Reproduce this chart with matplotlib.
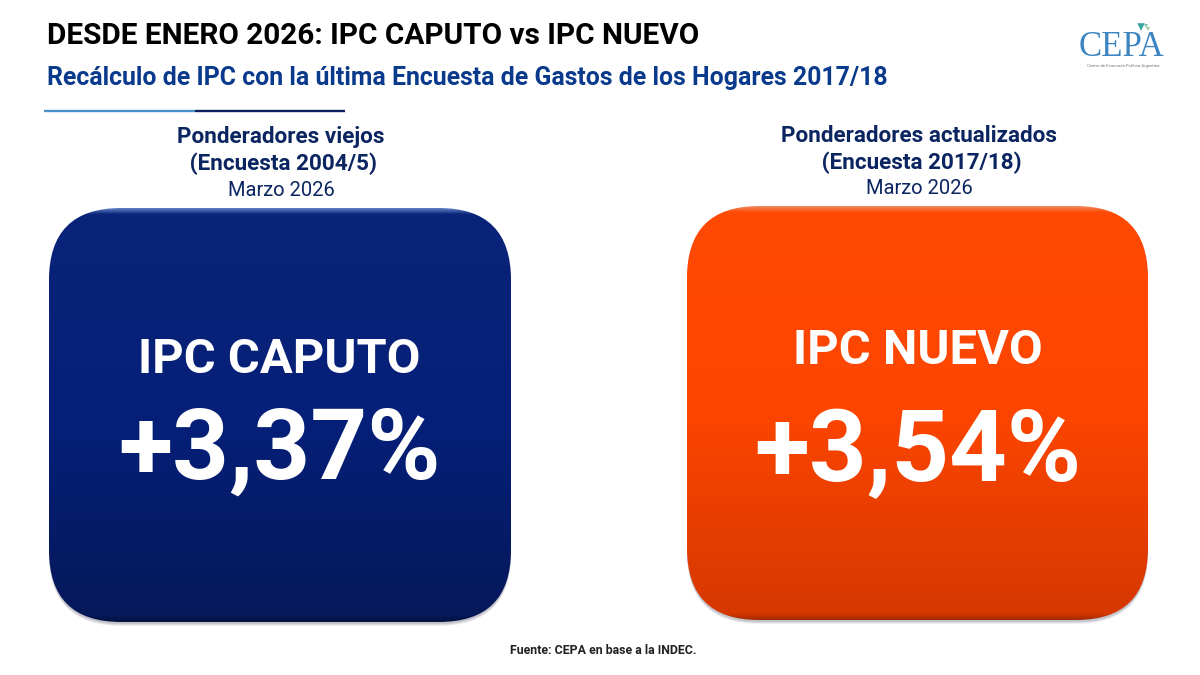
#! /usr/bin/env python3
# -*- coding: utf-8 -*-
import numpy as np
import matplotlib
matplotlib.use('Agg')
import matplotlib.pyplot as plt
from matplotlib.patches import FancyBboxPatch
from matplotlib.transforms import Affine2D
from matplotlib.colors import LinearSegmentedColormap

plt.rcParams['font.family'] = ['Roboto', 'DejaVu Sans']

title = 'DESDE ENERO 2026: IPC CAPUTO vs IPC NUEVO'
subtitle = 'Recálculo de IPC con la última Encuesta de Gastos de los Hogares 2017/18'
source = 'Fuente: CEPA en base a la INDEC.'

headers_a = ['Ponderadores viejos', 'Ponderadores actualizados']
headers_b = [' (Encuesta 2004/5)', ' (Encuesta 2017/18)']
periods = ['Marzo 2026', 'Marzo 2026']
names = ['IPC CAPUTO', 'IPC NUEVO']
values = [3.37, 3.54]

NAVY = '#0b2561'
BLUE = '#0a3a8c'

fig = plt.figure(figsize=(12, 6.75), dpi=100)
ax = fig.add_axes([0, 0, 1, 1])
ax.set_xlim(0, 1200)
ax.set_ylim(675, 0)
ax.axis('off')


def card(x0, y0, x1, y1, stops):
    r = 72

    def shape():
        return FancyBboxPatch((x0 + r, y0 + r), x1 - x0 - 2 * r, y1 - y0 - 2 * r,
                              boxstyle='round,pad=%d,rounding_size=%d' % (r, r))

    # soft shadow under the card
    for off, a in [(4, 0.10), (3, 0.15), (2, 0.2)]:
        s = shape()
        s.set(facecolor='#6b6b80', edgecolor='none', alpha=a)
        s.set_transform(ax.transData + Affine2D().translate(0, -off))
        ax.add_patch(s)
    cmap = LinearSegmentedColormap.from_list('card', stops, N=1024)
    grad = np.linspace(0, 1, 828).reshape(-1, 1)
    im = ax.imshow(grad, cmap=cmap, extent=[x0, x1, y1, y0], aspect='auto', zorder=2)
    clip = shape()
    clip.set(facecolor='none', edgecolor='none')
    ax.add_patch(clip)
    im.set_clip_path(clip)


ax.text(47, 36, title, fontsize=21.45, fontweight='bold', color='black', va='center')
ax.text(47, 78.5, subtitle, fontsize=17.95, fontweight='bold', color=BLUE, va='center')

# rule below the titles
ax.plot([44, 195], [111, 111], color='#4a90c8', lw=1.7, solid_capstyle='butt')
ax.plot([195, 345], [111, 111], color='#0b1f5c', lw=1.7, solid_capstyle='butt')

# logo
ax.text(1122, 47, 'CEPA', fontsize=25, color='#3d85c0', family='Liberation Serif',
        ha='center', va='center')
ax.text(1123, 66, 'Centro de Economía Política Argentina', fontsize=3.1, color='#777777',
        ha='center', va='center')
ax.scatter([1141, 1146, 1148], [27, 26, 29], marker='v', s=[30, 8, 8],
           color=['#3aa6a0', '#7fc8b0', '#a5c8a0'], linewidths=0)

boxes = [(49, 208, 511, 622), (687, 206, 1148, 620)]
stops = [
    [(0, '#5f7cc4'), (0.014, '#0a2478'), (0.5, '#06207a'), (0.985, '#05185a'), (1, '#03103f')],
    [(0, '#f08a60'), (0.014, '#ff4a05'), (0.5, '#fc4500'), (0.985, '#d63800'), (1, '#a52a00')],
]
name_base = [373, 364]
value_base = [479, 481]
value_size = [71.5, 72.5]
name_size = [35.2, 35.2]
head_y = [(137, 164, 190), (135.5, 163, 188.5)]
text_x = [281, 919]
card_x = [279.5, 917.5]

for i in range(2):
    ya, yb, yc = head_y[i]
    ax.text(text_x[i], ya, headers_a[i], fontsize=16.2, fontweight='bold', color=NAVY, ha='center', va='center')
    ax.text(text_x[i], yb, headers_b[i], fontsize=16.2, fontweight='bold', color=NAVY, ha='center', va='center')
    ax.text(text_x[i], yc, periods[i], fontsize=14.5, color=NAVY, ha='center', va='center')
    card(*boxes[i], stops[i])
    ax.text(card_x[i], name_base[i], names[i], fontsize=name_size[i], fontweight='bold', color='white',
            ha='center', va='baseline', zorder=5)
    label = '+' + ('%.2f' % values[i]).replace('.', ',') + '%'
    ax.text(card_x[i], value_base[i], label, fontsize=value_size[i], fontweight='bold', color='white',
            ha='center', va='baseline', zorder=5)

ax.text(603, 651, source, fontsize=8.95, fontweight='bold', color='#222222', ha='center', va='center')

fig.savefig('out.png', dpi=100)
